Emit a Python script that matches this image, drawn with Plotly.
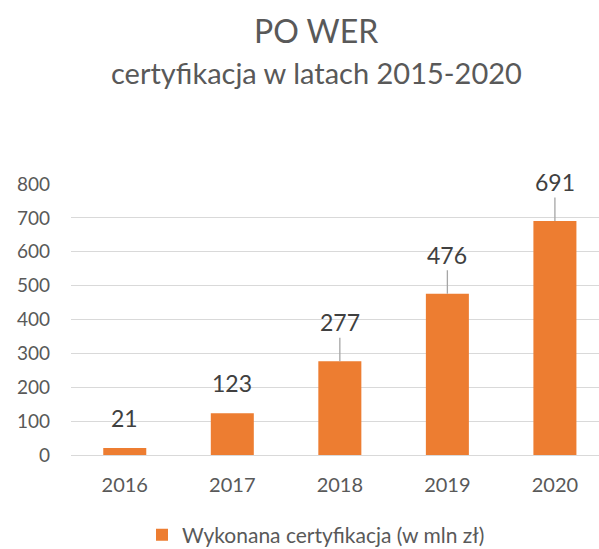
import plotly.graph_objects as go

years = ["2016", "2017", "2018", "2019", "2020"]
values = [21, 123, 277, 476, 691]
series_name = "Wykonana certyfikacja (w mln zł)"
title_text = "PO WER"
subtitle_text = "certyfikacja w latach 2015-2020"

ORANGE = "#ED7D31"
GRAY = "#595959"
FONT = "Lato, 'Open Sans', sans-serif"

fig = go.Figure()
fig.add_trace(go.Bar(
    x=years, y=values, name=series_name,
    marker=dict(color=ORANGE, line=dict(width=0)),
    width=0.4, showlegend=True,
))

for i, (yr, v) in enumerate(zip(years, values)):
    far = v > 200
    if far:
        fig.add_annotation(
            x=i, y=v, xref="x", yref="y", text=str(v),
            font=dict(size=23, color="#404040", family=FONT),
            showarrow=True, arrowhead=0, arrowwidth=1.3, arrowcolor="#A6A6A6",
            ax=0, ay=-39, standoff=0,
        )
    else:
        fig.add_annotation(
            x=i, y=v, xref="x", yref="y", text=str(v),
            font=dict(size=23, color="#404040", family=FONT),
            showarrow=False, yshift=30, yanchor="middle",
        )

title_x = (316 - 71) / 528
fig.add_annotation(text=title_text, xref="paper", yref="paper", x=title_x, y=1,
                   xanchor="center", yanchor="middle", yshift=184 - 30,
                   showarrow=False, font=dict(size=32, color=GRAY, family=FONT))
fig.add_annotation(text=subtitle_text, xref="paper", yref="paper", x=title_x, y=1,
                   xanchor="center", yanchor="middle", yshift=184 - 72,
                   showarrow=False, font=dict(size=29, color=GRAY, family=FONT))

fig.update_layout(
    width=599, height=549,
    margin=dict(l=71, r=0, t=184, b=94, autoexpand=False),
    paper_bgcolor="white", plot_bgcolor="white",
    font=dict(family=FONT, color=GRAY, size=18),
    xaxis=dict(type="category", range=[-0.5, 4.41], showgrid=False, showline=False,
               ticks="", tickfont=dict(size=20, color=GRAY), fixedrange=True,
               automargin=False, ticklabelstandoff=16),
    yaxis=dict(range=[0, 800], dtick=100, showgrid=True, gridcolor="#D9D9D9",
               gridwidth=1, zeroline=True, zerolinecolor="#D9D9D9", zerolinewidth=1,
               showline=False, ticks="", tickfont=dict(size=19, color=GRAY),
               ticklabelstandoff=20, automargin=False, fixedrange=True),
    legend=dict(orientation="h", x=title_x, xanchor="center", y=-(535 - 455) / 271,
                yanchor="middle", font=dict(size=21, color=GRAY, family=FONT),
                itemwidth=30),
)

fig.write_html("out.html", config={"displayModeBar": False},
               post_script="document.body.style.margin='0';document.body.style.overflow='hidden';")
